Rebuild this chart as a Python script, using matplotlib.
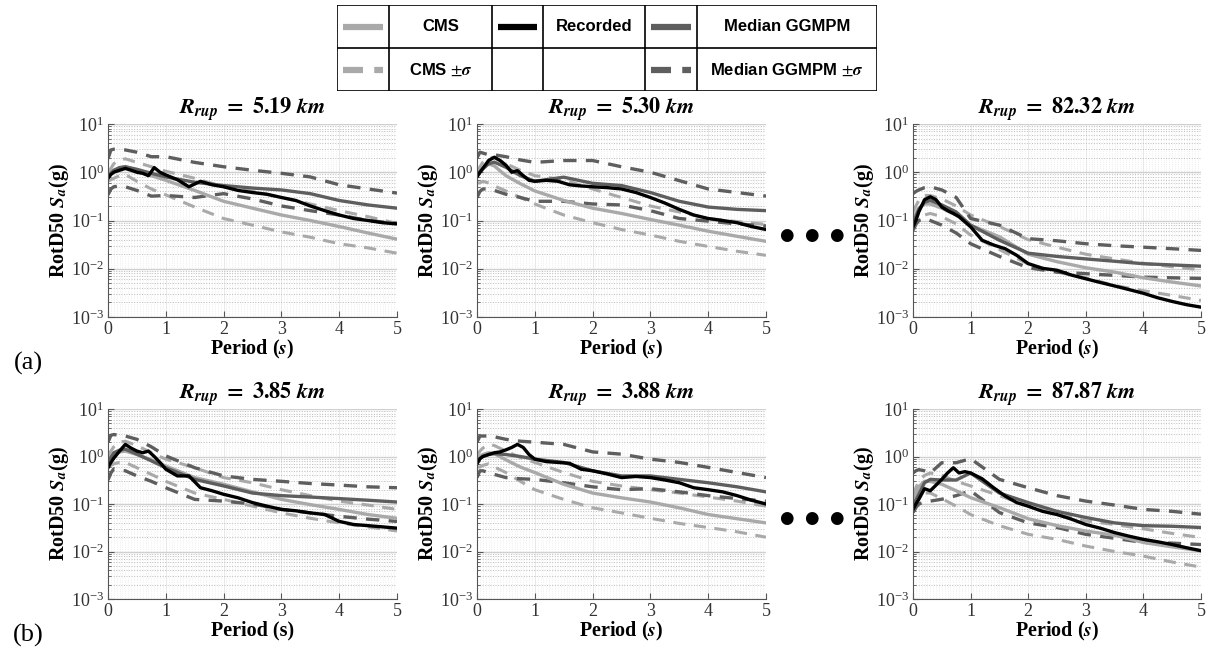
import matplotlib
matplotlib.use("Agg")
import matplotlib.pyplot as plt
from matplotlib.ticker import MultipleLocator, LogLocator, NullFormatter

# ---- data ----------------------------------------------------------------
titles = ["5.19", "5.30", "82.32", "3.85", "3.88", "87.87"]
periods = [0, 0.05, 0.1, 0.2, 0.3, 0.5, 0.75, 1.0, 1.5, 2.0, 2.5, 3.0, 3.5, 4.0, 4.5, 5.0]
rec_periods = [0, 0.05, 0.1, 0.2, 0.3, 0.4, 0.5, 0.6, 0.7, 0.8, 0.9, 1.0, 1.2, 1.4, 1.6,
               1.8, 2.0, 2.25, 2.5, 2.75, 3.0, 3.25, 3.5, 3.75, 4.0, 4.25, 4.5, 4.75, 5.0]

cms = [
    [0.85, 0.95, 1.05, 1.2, 1.3, 1.1, 0.85, 0.68, 0.42, 0.25, 0.18, 0.13, 0.1, 0.075, 0.055, 0.041],
    [0.9, 1.0, 1.2, 1.5, 1.35, 0.85, 0.58, 0.41, 0.26, 0.18, 0.14, 0.105, 0.08, 0.06, 0.047, 0.037],
    [0.1, 0.14, 0.18, 0.22, 0.22, 0.18, 0.13, 0.08, 0.046, 0.02, 0.014, 0.0105, 0.0085, 0.0065, 0.0053, 0.0044],
    [0.9, 1.0, 1.1, 1.25, 1.3, 1.1, 0.85, 0.63, 0.36, 0.26, 0.18, 0.125, 0.097, 0.077, 0.06, 0.05],
    [0.9, 1.0, 1.1, 1.2, 1.15, 0.85, 0.6, 0.46, 0.26, 0.17, 0.135, 0.11, 0.083, 0.06, 0.049, 0.04],
    [0.12, 0.17, 0.23, 0.3, 0.3, 0.26, 0.19, 0.136, 0.084, 0.049, 0.035, 0.027, 0.022, 0.0155, 0.0125, 0.0103],
]
cms_hi = [
    [1.0, 1.2, 1.5, 1.8, 1.9, 1.6, 1.3, 1.05, 0.75, 0.5, 0.4, 0.3, 0.22, 0.16, 0.12, 0.087],
    [1.0, 1.3, 1.6, 2.0, 2.0, 1.5, 1.1, 0.85, 0.7, 0.45, 0.3, 0.2, 0.15, 0.11, 0.095, 0.083],
    [0.15, 0.2, 0.26, 0.33, 0.33, 0.28, 0.2, 0.13, 0.075, 0.04, 0.028, 0.02, 0.016, 0.013, 0.011, 0.0095],
    [1.0, 1.3, 1.6, 2.0, 2.1, 1.7, 1.2, 0.88, 0.58, 0.36, 0.28, 0.2, 0.15, 0.115, 0.095, 0.077],
    [1.0, 1.3, 1.5, 1.8, 1.7, 1.3, 0.95, 0.75, 0.46, 0.3, 0.24, 0.2, 0.17, 0.14, 0.115, 0.09],
    [0.15, 0.22, 0.3, 0.4, 0.45, 0.4, 0.3, 0.24, 0.15, 0.09, 0.06, 0.044, 0.037, 0.03, 0.024, 0.0197],
]
cms_lo = [
    [0.65, 0.7, 0.75, 0.85, 0.9, 0.65, 0.45, 0.34, 0.19, 0.11, 0.08, 0.058, 0.045, 0.033, 0.027, 0.021],
    [0.6, 0.6, 0.65, 0.6, 0.52, 0.41, 0.3, 0.22, 0.13, 0.09, 0.065, 0.05, 0.037, 0.029, 0.023, 0.019],
    [0.06, 0.08, 0.1, 0.13, 0.14, 0.12, 0.085, 0.05, 0.025, 0.0125, 0.0085, 0.0065, 0.0045, 0.0035, 0.0028, 0.0022],
    [0.65, 0.65, 0.7, 0.75, 0.75, 0.58, 0.42, 0.3, 0.17, 0.125, 0.09, 0.065, 0.05, 0.04, 0.033, 0.027],
    [0.6, 0.6, 0.65, 0.7, 0.6, 0.46, 0.3, 0.2, 0.125, 0.083, 0.065, 0.05, 0.039, 0.032, 0.026, 0.02],
    [0.08, 0.1, 0.13, 0.17, 0.17, 0.13, 0.09, 0.06, 0.035, 0.023, 0.018, 0.013, 0.01, 0.008, 0.006, 0.0047],
]
med = [
    [0.8, 0.95, 1.1, 1.25, 1.3, 1.15, 0.95, 0.8, 0.62, 0.53, 0.47, 0.43, 0.36, 0.26, 0.21, 0.18],
    [0.85, 1.0, 1.17, 1.5, 1.62, 1.27, 0.85, 0.65, 0.79, 0.59, 0.53, 0.38, 0.25, 0.19, 0.17, 0.16],
    [0.087, 0.12, 0.17, 0.24, 0.26, 0.21, 0.15, 0.08, 0.039, 0.021, 0.018, 0.016, 0.0143, 0.0127, 0.012, 0.0113],
    [0.81, 0.95, 1.2, 1.36, 1.43, 1.12, 0.81, 0.58, 0.33, 0.24, 0.17, 0.15, 0.14, 0.13, 0.12, 0.11],
    [0.75, 0.9, 1.0, 1.1, 1.15, 1.1, 1.0, 0.88, 0.75, 0.5, 0.39, 0.39, 0.33, 0.28, 0.23, 0.18],
    [0.09, 0.12, 0.16, 0.28, 0.33, 0.32, 0.32, 0.45, 0.17, 0.107, 0.07, 0.052, 0.04, 0.035, 0.034, 0.032],
]
med_hi = [
    [1.9, 2.9, 3.0, 2.9, 2.9, 2.6, 2.1, 2.1, 1.6, 1.3, 1.1, 0.95, 0.8, 0.55, 0.45, 0.37],
    [2.0, 2.6, 2.5, 2.3, 2.3, 2.1, 1.8, 1.6, 1.75, 1.75, 1.3, 1.0, 0.67, 0.45, 0.38, 0.32],
    [0.36, 0.4, 0.43, 0.48, 0.5, 0.43, 0.3, 0.11, 0.08, 0.042, 0.038, 0.033, 0.03, 0.028, 0.026, 0.024],
    [2.0, 2.8, 2.9, 2.8, 2.7, 2.3, 1.6, 1.03, 0.58, 0.39, 0.33, 0.3, 0.27, 0.25, 0.23, 0.22],
    [2.0, 2.7, 2.7, 2.7, 2.6, 2.3, 2.1, 2.0, 1.8, 1.25, 1.12, 0.88, 0.75, 0.59, 0.46, 0.36],
    [0.45, 0.5, 0.53, 0.5, 0.45, 0.74, 0.74, 0.9, 0.33, 0.22, 0.15, 0.115, 0.095, 0.077, 0.07, 0.061],
]
med_lo = [
    [0.34, 0.45, 0.5, 0.52, 0.5, 0.42, 0.32, 0.33, 0.3, 0.36, 0.28, 0.2, 0.16, 0.13, 0.1, 0.087],
    [0.3, 0.4, 0.45, 0.45, 0.42, 0.35, 0.3, 0.25, 0.25, 0.22, 0.21, 0.16, 0.11, 0.097, 0.085, 0.077],
    [0.063, 0.085, 0.1, 0.11, 0.1, 0.08, 0.055, 0.033, 0.018, 0.0105, 0.0085, 0.0079, 0.0073, 0.0067, 0.0065, 0.0063],
    [0.32, 0.45, 0.55, 0.52, 0.5, 0.39, 0.3, 0.22, 0.125, 0.115, 0.1, 0.077, 0.065, 0.055, 0.048, 0.043],
    [0.36, 0.5, 0.5, 0.46, 0.42, 0.36, 0.34, 0.33, 0.28, 0.23, 0.2, 0.21, 0.18, 0.15, 0.13, 0.115],
    [0.066, 0.084, 0.1, 0.11, 0.115, 0.126, 0.15, 0.19, 0.066, 0.04, 0.032, 0.023, 0.019, 0.0155, 0.015, 0.014],
]
recorded = [
    [0.75, 0.9, 1.0, 1.1, 1.2, 1.1, 1.0, 0.95, 0.85, 1.25, 1.0, 0.88, 0.7, 0.5, 0.65,
     0.55, 0.5, 0.42, 0.38, 0.35, 0.3, 0.26, 0.2, 0.16, 0.13, 0.11, 0.1, 0.09, 0.085],
    [0.8, 1.0, 1.2, 1.75, 2.05, 1.75, 1.4, 1.0, 1.08, 0.85, 0.68, 0.65, 0.68, 0.65, 0.55,
     0.52, 0.5, 0.48, 0.45, 0.38, 0.3, 0.23, 0.17, 0.13, 0.11, 0.1, 0.09, 0.075, 0.065],
    [0.074, 0.1, 0.15, 0.27, 0.31, 0.27, 0.19, 0.16, 0.14, 0.12, 0.094, 0.074, 0.039, 0.031, 0.026,
     0.019, 0.0128, 0.0102, 0.0093, 0.0074, 0.0062, 0.0052, 0.0044, 0.0037, 0.0031, 0.0025, 0.0021, 0.0018, 0.0016],
    [0.58, 0.75, 0.92, 1.3, 1.8, 1.5, 1.3, 1.2, 1.3, 1.0, 0.75, 0.54, 0.39, 0.39, 0.22,
     0.19, 0.16, 0.135, 0.107, 0.09, 0.077, 0.072, 0.065, 0.06, 0.043, 0.037, 0.035, 0.033, 0.031],
    [0.7, 0.9, 1.0, 1.1, 1.2, 1.25, 1.38, 1.55, 1.8, 1.55, 1.1, 0.88, 0.78, 0.75, 0.72,
     0.54, 0.5, 0.43, 0.36, 0.38, 0.36, 0.32, 0.28, 0.22, 0.2, 0.18, 0.15, 0.12, 0.1],
    [0.077, 0.1, 0.125, 0.21, 0.19, 0.25, 0.33, 0.45, 0.58, 0.45, 0.48, 0.45, 0.34, 0.22, 0.147,
     0.107, 0.09, 0.07, 0.06, 0.048, 0.037, 0.031, 0.025, 0.021, 0.018, 0.016, 0.014, 0.012, 0.0104],
]
italic_s = [True, True, True, False, True, True]

legend_rows = [["CMS", "Recorded", "Median GGMPM"],
               [r"CMS $\pm\mathbfit{\sigma}$", "", r"Median GGMPM $\pm\mathbfit{\sigma}$"]]

LIGHT = "#a9a9a9"
DARK = "#5e5e5e"

plt.rcParams["font.family"] = ["Liberation Serif", "DejaVu Serif"]
plt.rcParams["mathtext.fontset"] = "stix"

fig = plt.figure(figsize=(12.06, 6.53), dpi=100)

W, H = 1206.0, 653.0
lefts = [108, 477, 913]
rows = [(124, 317), (409, 599)]
widths = [289, 289, 288]

for i in range(6):
    r, c = divmod(i, 3)
    top, bot = rows[r]
    ax = fig.add_axes([lefts[c] / W, 1 - bot / H, widths[c] / W, (bot - top) / H])
    ax.set_yscale("log")
    ax.set_ylim(1e-3, 10)
    ax.set_xlim(0, 5)

    ax.plot(periods, cms_hi[i], color=LIGHT, lw=2.2, dashes=(4, 2.8))
    ax.plot(periods, cms_lo[i], color=LIGHT, lw=2.2, dashes=(4, 2.8))
    ax.plot(periods, med_hi[i], color=DARK, lw=2.4, dashes=(4, 2.8))
    ax.plot(periods, med_lo[i], color=DARK, lw=2.4, dashes=(4, 2.8))
    ax.plot(periods, cms[i], color=LIGHT, lw=2.4)
    ax.plot(periods, med[i], color=DARK, lw=2.4)
    ax.plot(rec_periods, recorded[i], color="black", lw=2.4)

    ax.xaxis.set_major_locator(MultipleLocator(1))
    ax.xaxis.set_minor_locator(MultipleLocator(0.05))
    ax.yaxis.set_major_locator(LogLocator(base=10, numticks=10))
    ax.yaxis.set_minor_locator(LogLocator(base=10, subs=range(2, 10), numticks=20))
    ax.yaxis.set_minor_formatter(NullFormatter())
    ax.grid(True, which="major", axis="y", color="#d0d0d0", lw=1.0)
    ax.grid(True, which="minor", axis="y", color="#bdbdbd", lw=0.7, ls=":")
    ax.grid(True, which="minor", axis="x", color="#e4e4e4", lw=0.5, ls=":")
    ax.grid(True, which="major", axis="x", color="#e4e4e4", lw=0.6)
    ax.set_axisbelow(True)
    for s in ["top", "right"]:
        ax.spines[s].set_visible(False)
    for s in ["left", "bottom"]:
        ax.spines[s].set_color("#555555")
    ax.tick_params(axis="both", which="major", labelsize=13, colors="#555555",
                   labelcolor="#333333", length=4, direction="in", pad=3)
    ax.tick_params(axis="x", which="minor", length=0)
    ax.tick_params(axis="y", which="minor", length=2, direction="in", colors="#555555")

    ax.set_title(r"$\mathbfit{R}_{\mathbfit{rup}}\ \mathbf{=\ " + titles[i] + r"}\ \mathbfit{km}$",
                 fontsize=16, pad=3)
    ax.set_ylabel(r"RotD50 $\mathbfit{S}_{\mathbfit{a}}$(g)", fontsize=14.5,
                  fontweight="bold", labelpad=0)
    if italic_s[i]:
        ax.set_xlabel(r"Period ($\mathbfit{s}$)", fontsize=14.5, fontweight="bold", labelpad=0)
    else:
        ax.set_xlabel("Period (s)", fontsize=14.5, fontweight="bold", labelpad=0)

# ellipsis dots between middle and right panels
for yy in [235, 518]:
    fig.text(812 / W, 1 - yy / H, "\u25cf  \u25cf  \u25cf", ha="center", va="center",
             fontsize=12, family="DejaVu Sans")

fig.text(28 / W, 1 - 363 / H, "(a)", ha="center", va="center", fontsize=19)
fig.text(28 / W, 1 - 635 / H, "(b)", ha="center", va="center", fontsize=19)

# legend table
lg = fig.add_axes([337 / W, 1 - 91 / H, 540 / W, 86 / H])
lg.set_xlim(0, 540)
lg.set_ylim(86, 0)
lg.axis("off")
cols = [0, 52, 155, 206, 308, 360, 540]
for x in cols:
    lg.plot([x, x], [0, 86], color="black", lw=1.2)
for y in [0, 43, 86]:
    lg.plot([0, 540], [y, y], color="black", lw=1.2)

samples = [[(LIGHT, "-"), ("black", "-"), (DARK, "-")],
           [(LIGHT, "--"), None, (DARK, "--")]]
for r in range(2):
    yc = 21.5 + 43 * r
    for k in range(3):
        x0, x1, x2 = cols[2 * k], cols[2 * k + 1], cols[2 * k + 2]
        smp = samples[r][k]
        if smp is not None:
            if smp[1] == "-":
                lg.plot([x0 + 6, x1 - 6], [yc, yc], color=smp[0], lw=4.5, solid_capstyle="butt")
            else:
                lg.plot([x0 + 6, x1 - 6], [yc, yc], color=smp[0], lw=4.5, dashes=(3.2, 1.8))
        lg.text((x1 + x2) / 2, yc, legend_rows[r][k], ha="center", va="center",
                fontsize=12, fontweight="bold", family="Liberation Sans")

fig.savefig("out.png", dpi=100)
